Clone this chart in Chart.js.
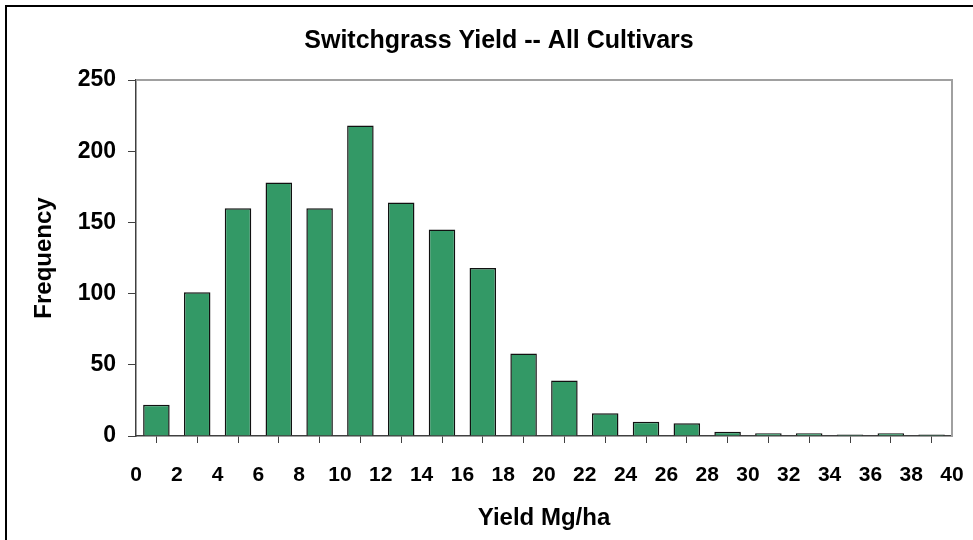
<!DOCTYPE html>
<html>
<head>
<meta charset="utf-8">
<script src="https://cdn.jsdelivr.net/npm/chart.js@4/dist/chart.umd.min.js"></script>
<style>
  html, body { margin: 0; padding: 0; background: #fff; overflow: hidden; }
  #frame { position: absolute; left: 5px; top: 5px; width: 1000px; height: 600px; border: 2px solid #000; }
  #chart { position: absolute; left: 0; top: 0; }
</style>
</head>
<body>
<div id="frame"></div>
<canvas id="chart" width="973" height="540"></canvas>
<script>
// bin centres (Mg/ha) and counts per 2 Mg/ha bin
const binCenters = [1, 3, 5, 7, 9, 11, 13, 15, 17, 19, 21, 23, 25, 27, 29, 31, 33, 35, 37, 39];
const frequency = [22, 101, 160, 178, 160, 218, 164, 145, 118, 58, 39, 16, 10, 9, 3, 2, 2, 1, 2, 1];

const chartTitle = 'Switchgrass Yield -- All Cultivars';
const xTitle = 'Yield Mg/ha';
const yTitle = 'Frequency';

Chart.defaults.font.family = "'Liberation Sans', Arial, sans-serif";
Chart.defaults.font.weight = 'bold';
Chart.defaults.color = '#000';

// gray frame on the top and right of the plot area
const plotFrame = {
  id: 'plotFrame',
  beforeDatasetsDraw(chart) {
    const { ctx, chartArea: a } = chart;
    ctx.save();
    ctx.strokeStyle = '#a0a0a0';
    ctx.lineWidth = 2;
    ctx.beginPath();
    ctx.moveTo(a.left, a.top);
    ctx.lineTo(a.right, a.top);
    ctx.lineTo(a.right, a.bottom);
    ctx.stroke();
    ctx.restore();
  }
};

new Chart(document.getElementById('chart'), {
  type: 'bar',
  data: {
    datasets: [{
      data: binCenters.map((x, i) => ({ x: x, y: frequency[i] })),
      backgroundColor: '#339966',
      borderColor: '#111',
      borderWidth: 1.5,
      barPercentage: 0.65,
      categoryPercentage: 1
    }]
  },
  options: {
    responsive: false,
    animation: false,
    layout: { padding: { left: 25, right: 0, top: 0, bottom: 0 } },
    plugins: {
      legend: { display: false },
      tooltip: { enabled: false },
      title: {
        display: true,
        text: chartTitle,
        font: { size: 25, weight: 'bold' },
        padding: { top: 26, bottom: 24 }
      }
    },
    scales: {
      x: {
        type: 'linear',
        min: 0,
        max: 40,
        offset: false,
        afterFit: s => { s.height = 104; s.paddingLeft = 0; s.paddingRight = 21; },
        ticks: { stepSize: 2, autoSkip: false, maxRotation: 0, padding: 20, font: { size: 21 } },
        grid: { drawOnChartArea: false, drawTicks: true, tickLength: 7, color: '#404040', lineWidth: 1 },
        border: { color: '#404040', width: 1.5 },
        title: { display: true, text: xTitle, font: { size: 24, weight: 'bold' }, padding: { top: 0, bottom: 7 } }
      },
      y: {
        min: 0,
        max: 250,
        afterFit: s => { s.width = 111; },
        ticks: { stepSize: 50, padding: 12, font: { size: 23 } },
        grid: { drawOnChartArea: false, drawTicks: true, tickLength: 8, color: '#404040', lineWidth: 1 },
        border: { color: '#404040', width: 1.5 },
        title: { display: true, text: yTitle, font: { size: 24, weight: 'bold' }, padding: { top: 5, bottom: 0 } }
      }
    }
  },
  plugins: [plotFrame]
});
</script>
</body>
</html>
